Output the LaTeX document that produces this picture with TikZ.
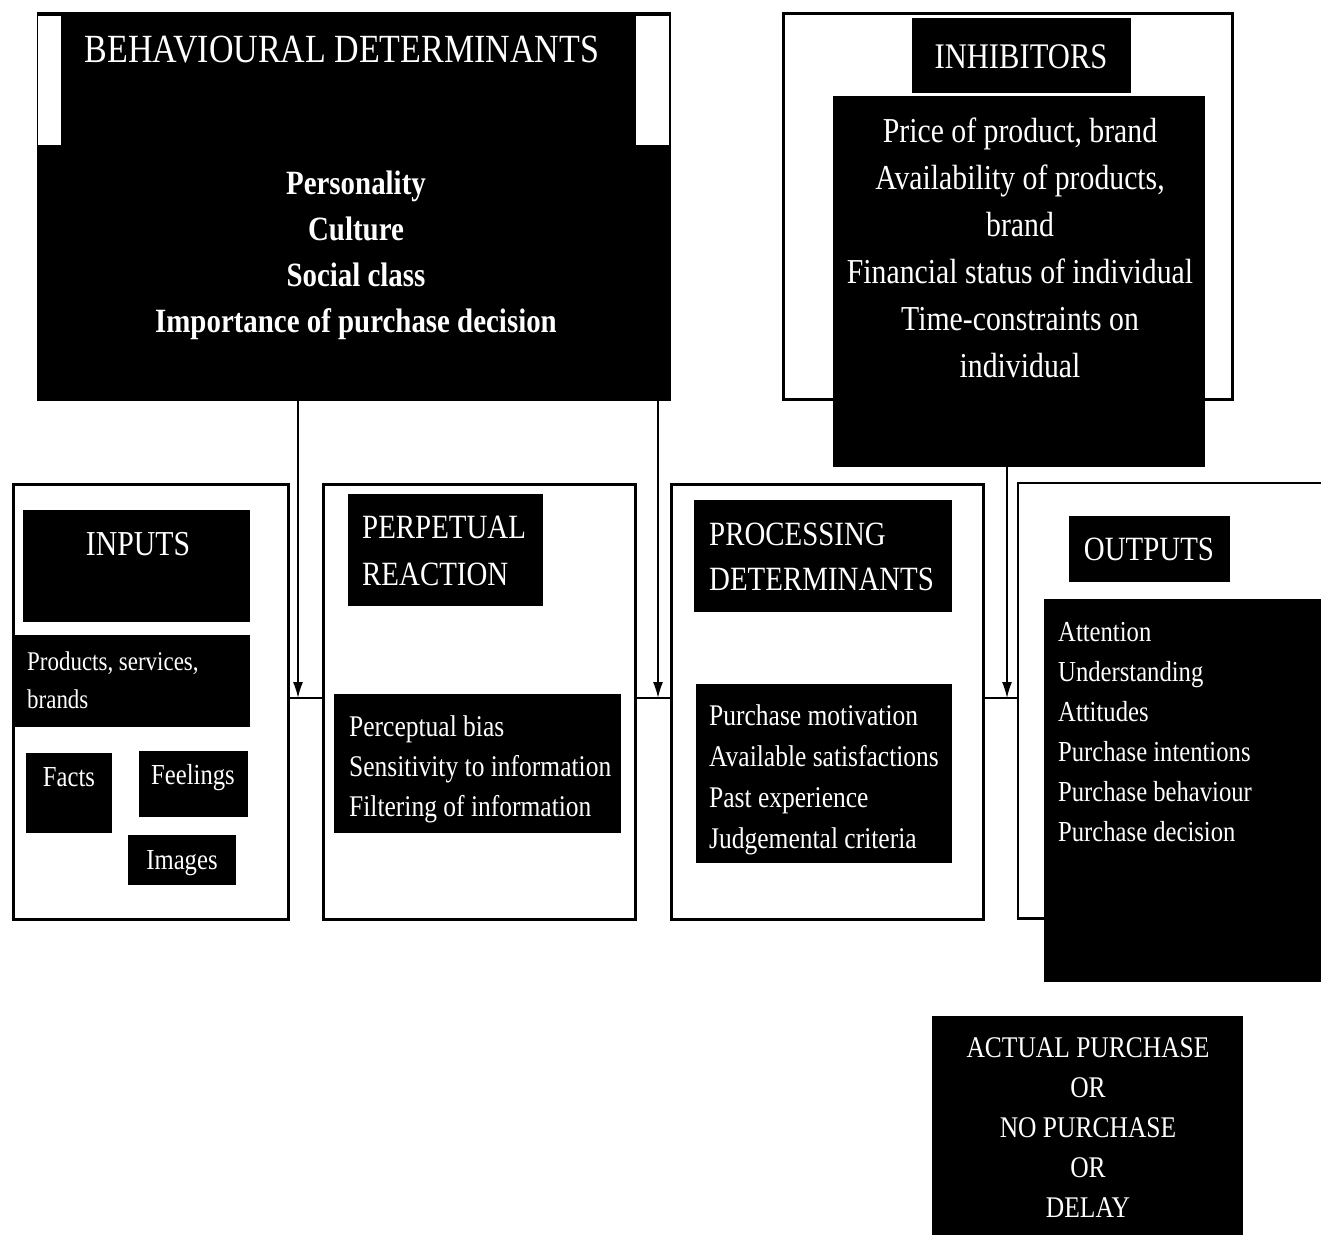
\documentclass[tikz,border=0pt]{standalone}
\usepackage{fontspec}
\setmainfont[FakeStretch=0.85]{Liberation Serif}
\usetikzlibrary{arrows.meta}
\begin{document}
\begin{tikzpicture}[x=1pt,y=-1pt,
  panel/.style={draw=black, line width=2.5pt, fill=white, anchor=north west, inner sep=0pt},
  blk/.style={fill=black, draw=none, anchor=north west, inner sep=0pt},
  notch/.style={fill=white, draw=none, anchor=north west, inner sep=0pt},
  lbl/.style={text=white, inner sep=0pt},
  feed/.style={line width=1.5pt, -{Latex[length=16pt,width=10pt]}},
  link/.style={line width=1.5pt}]

% page
\fill[white] (0,0) rectangle (1321,1235);
\useasboundingbox (0,0) rectangle (1321,1235);

% ---- behavioural determinants ----
\node[blk, minimum width=633pt, minimum height=388pt] (bd) at (37,12) {};
\node[notch, minimum width=23pt, minimum height=129pt] (bdl) at (38,16) {};
\node[notch, minimum width=33pt, minimum height=129pt] (bdr) at (636,16) {};
\draw[line width=1pt] (bd.north west) rectangle (bd.south east);
\node[lbl, anchor=north, font=\fontsize{40}{48}\selectfont] (bdtitle) at (342,36) {BEHAVIOURAL DETERMINANTS};
\node[lbl, anchor=north, align=center, font=\bfseries\fontsize{34}{46}\selectfont] (bditems) at (356,171)
  {Personality\\Culture\\Social class\\Importance of purchase decision};

% ---- inhibitors ----
\node[panel, minimum width=449pt, minimum height=386pt] (inhf) at (782,12) {};
\node[blk, minimum width=219pt, minimum height=75pt] (inht) at (912,18) {};
\node[blk, minimum width=372pt, minimum height=371pt] (inhi) at (833,96) {};
\node[lbl, anchor=north, font=\fontsize{36}{44}\selectfont] (inhtitle) at (1021,44) {INHIBITORS};
\node[lbl, anchor=north, align=center, font=\fontsize{35}{47}\selectfont] (inhitems) at (1020,118)
  {Price of product, brand\\Availability of products,\\brand\\Financial status of individual\\Time-constraints on\\individual};

% ---- lower panels ----
\node[panel, minimum width=275pt, minimum height=435pt] (inp) at (12,483) {};
\node[panel, minimum width=312pt, minimum height=435pt] (perc) at (322,483) {};
\node[panel, minimum width=312pt, minimum height=435pt] (proc) at (670,483) {};
\node[anchor=north west, inner sep=0pt, minimum width=303pt, minimum height=435pt] (outp) at (1018,483) {};

% inputs
\node[blk, minimum width=227pt, minimum height=112pt] (inpt) at (23,510) {};
\node[blk, minimum width=238pt, minimum height=92pt] (prod) at (12,635) {};
\node[blk, minimum width=86pt, minimum height=80pt] (facts) at (26,753) {};
\node[blk, minimum width=109pt, minimum height=66pt] (feel) at (139,751) {};
\node[blk, minimum width=108pt, minimum height=50pt] (img) at (128,835) {};
\node[lbl, anchor=north, font=\fontsize{35}{42}\selectfont] (inptxt) at (138,532) {INPUTS};
\node[lbl, anchor=north west, align=left, font=\fontsize{27}{38}\selectfont] (prodtxt) at (27,652)
  {Products, services,\\brands};
\node[lbl, anchor=north, font=\fontsize{29}{36}\selectfont] (factstxt) at (69,767) {Facts};
\node[lbl, anchor=north, font=\fontsize{29}{36}\selectfont] (feeltxt) at (193,764) {Feelings};
\node[lbl, anchor=north, font=\fontsize{29}{36}\selectfont] (imgtxt) at (182,850) {Images};

% perceptual reaction
\node[blk, minimum width=195pt, minimum height=112pt] (perct) at (348,494) {};
\node[blk, minimum width=287pt, minimum height=139pt] (perci) at (334,694) {};
\node[lbl, anchor=north west, align=left, font=\fontsize{34}{47}\selectfont] (perctxt) at (362,516)
  {PERPETUAL\\REACTION};
\node[lbl, anchor=north west, align=left, font=\fontsize{30}{40}\selectfont] (percitems) at (349,715)
  {Perceptual bias\\Sensitivity to information\\Filtering of information};

% processing determinants
\node[blk, minimum width=258pt, minimum height=112pt] (proct) at (694,500) {};
\node[blk, minimum width=256pt, minimum height=179pt] (proci) at (696,684) {};
\node[lbl, anchor=north west, align=left, font=\fontsize{34}{45}\selectfont] (proctxt) at (709,523)
  {PROCESSING\\DETERMINANTS};
\node[lbl, anchor=north west, align=left, font=\fontsize{30}{41}\selectfont] (procitems) at (709,704)
  {Purchase motivation\\Available satisfactions\\Past experience\\Judgemental criteria};

% outputs
\node[blk, minimum width=161pt, minimum height=66pt] (outt) at (1069,516) {};
\node[blk, minimum width=277pt, minimum height=383pt] (outi) at (1044,599) {};
\draw[line width=2.5pt] (outp.north east) -- (outp.north west) -- (outp.south west) -- (outi.west |- outp.south);
\node[lbl, anchor=north, font=\fontsize{34}{42}\selectfont] (outtxt) at (1149,538) {OUTPUTS};
\node[lbl, anchor=north west, align=left, font=\fontsize{29}{40}\selectfont] (outitems) at (1058,622)
  {Attention\\Understanding\\Attitudes\\Purchase intentions\\Purchase behaviour\\Purchase decision};

% result
\node[blk, minimum width=311pt, minimum height=219pt] (final) at (932,1016) {};
\node[lbl, anchor=north, align=center, font=\fontsize{30}{40}\selectfont] (finaltxt) at (1088,1037)
  {ACTUAL PURCHASE\\OR\\NO PURCHASE\\OR\\DELAY};

% ---- connectors ----
\coordinate (j1) at (298,698);
\coordinate (j2) at (658,698);
\coordinate (j3) at (1007,698);
\draw[feed] (bd.south -| j1) -- (j1);
\draw[feed] (bd.south -| j2) -- (j2);
\draw[feed] (inhi.south -| j3) -- (j3);
\draw[link] (inp.east |- j1) -- (perc.west |- j1);
\draw[link] (perc.east |- j2) -- (proc.west |- j2);
\draw[link] (proc.east |- j3) -- (outp.west |- j3);
\end{tikzpicture}
\end{document}
